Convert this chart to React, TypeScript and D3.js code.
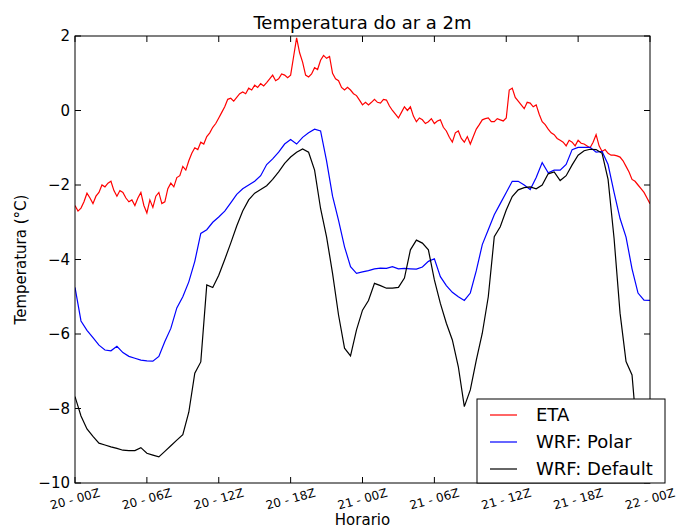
import * as d3 from "d3";

const title = "Temperatura do ar a 2m";
const xLabel = "Horario";
const yLabel = "Temperatura (°C)";

// hour offsets of the x ticks, from 20-00Z
const xTickHours = [0, 6, 12, 18, 24, 30, 36, 42, 48];
const xTickLabels = ["20 - 00Z", "20 - 06Z", "20 - 12Z", "20 - 18Z", "21 - 00Z", "21 - 06Z", "21 - 12Z", "21 - 18Z", "22 - 00Z"];
const yTicks = [-10, -8, -6, -4, -2, 0, 2];

// ETA is read every 15 min, WRF runs every half hour
const etaStep = 0.25;
const wrfStep = 0.5;

const eta = [
  -2.55, -2.7, -2.62, -2.45, -2.22, -2.35, -2.5, -2.3, -2.2, -2.0,
  -2.05, -1.95, -1.9, -2.15, -2.3, -2.15, -2.2, -2.35, -2.45, -2.4,
  -2.55, -2.35, -2.2, -2.55, -2.75, -2.4, -2.6, -2.3, -2.2, -2.5,
  -2.45, -2.1, -1.95, -2.05, -1.8, -1.75, -1.5, -1.6, -1.35, -1.15,
  -1.0, -1.05, -0.85, -0.9, -0.7, -0.6, -0.45, -0.35, -0.2, -0.05,
  0.1, 0.3, 0.33, 0.25, 0.35, 0.45, 0.5, 0.45, 0.6, 0.55,
  0.68, 0.62, 0.72, 0.66, 0.75, 0.85, 0.95, 0.8, 0.85, 0.98,
  0.95, 0.88, 0.95, 1.45, 1.95, 1.55, 1.3, 0.95, 0.9, 0.98,
  1.15, 1.1, 1.35, 1.48, 1.4, 1.45, 1.0, 0.85, 0.8, 0.62,
  0.55, 0.62, 0.55, 0.45, 0.4, 0.28, 0.15, 0.22, 0.15, 0.22,
  0.3, 0.22, 0.2, 0.3, 0.28, 0.12, 0.0, -0.1, -0.2, -0.05,
  0.1, 0.0, 0.1, -0.15, -0.3, -0.2, -0.25, -0.35, -0.3, -0.22,
  -0.35, -0.28, -0.25, -0.45, -0.55, -0.72, -0.85, -0.6, -0.55, -0.75,
  -0.85, -0.7, -0.9, -0.7, -0.5, -0.38, -0.25, -0.22, -0.2, -0.3,
  -0.3, -0.22, -0.25, -0.28, -0.2, 0.55, 0.6, 0.35, 0.25, 0.15,
  0.05, 0.22, 0.2, 0.1, 0.15, -0.1, -0.3, -0.38, -0.5, -0.6,
  -0.65, -0.75, -0.8, -0.85, -0.95, -0.8, -0.85, -0.95, -0.8, -0.88,
  -0.9, -0.95, -1.0, -0.85, -0.65, -0.95, -1.1, -1.05, -1.15, -1.2,
  -1.2, -1.22, -1.25, -1.35, -1.5, -1.65, -1.85, -1.9, -2.0, -2.1,
  -2.2, -2.35, -2.5,
];

const wrfPolar = [
  -4.75, -5.65, -5.9, -6.1, -6.3, -6.43, -6.45, -6.33, -6.5, -6.6,
  -6.65, -6.7, -6.72, -6.73, -6.6, -6.2, -5.85, -5.3, -5.0, -4.6,
  -4.05, -3.3, -3.2, -3.0, -2.86, -2.7, -2.48, -2.25, -2.1, -2.0,
  -1.9, -1.75, -1.45, -1.3, -1.12, -0.9, -0.78, -0.9, -0.72, -0.6,
  -0.5, -0.55, -1.35, -2.3, -2.95, -3.66, -4.19, -4.37, -4.33, -4.3,
  -4.25, -4.23, -4.24, -4.19, -4.25, -4.24, -4.25, -4.26, -4.2, -4.05,
  -3.98, -4.46, -4.7, -4.88, -5.0, -5.1, -4.9, -4.3, -3.6, -3.2,
  -2.8, -2.5, -2.2, -1.9, -1.9, -2.0, -2.12, -1.8, -1.4, -1.67,
  -1.6, -1.6, -1.45, -1.05, -0.99, -0.99, -0.99, -1.12, -1.1, -1.45,
  -2.2, -2.9, -3.4, -4.25, -4.9, -5.09, -5.1,
];

const wrfDefault = [
  -7.68, -8.2, -8.55, -8.75, -8.93, -8.98, -9.03, -9.07, -9.12, -9.13,
  -9.13, -9.05, -9.2, -9.25, -9.3, -9.15, -9.0, -8.85, -8.7, -8.1,
  -7.05, -6.75, -4.68, -4.75, -4.42, -4.0, -3.56, -3.1, -2.7, -2.4,
  -2.22, -2.12, -2.02, -1.85, -1.65, -1.42, -1.25, -1.12, -1.03, -1.12,
  -1.6, -2.63, -3.39, -4.37, -5.49, -6.38, -6.59, -5.89, -5.36, -5.1,
  -4.64, -4.7, -4.77, -4.77, -4.75, -4.5, -3.74, -3.48, -3.56, -3.74,
  -4.55, -5.18, -5.71, -6.16, -6.88, -7.95, -7.5, -6.7, -5.98, -5.0,
  -3.39, -3.12, -2.67, -2.31, -2.13, -2.07, -2.05, -2.1, -2.0, -1.7,
  -1.65, -1.88, -1.75, -1.46, -1.2, -1.08, -1.04, -1.05, -1.15, -1.85,
  -3.43, -5.44, -6.74, -7.1, -9.0, -9.8, -10.2,
];

const seriesNames = ["ETA", "WRF: Polar", "WRF: Default"];
const seriesColors = ["#ff0000", "#0000ff", "#000000"];
const seriesValues = [eta, wrfPolar, wrfDefault];
const seriesSteps = [etaStep, wrfStep, wrfStep];

const W = 684;
const H = 528;
const left = 75;
const right = 650;
const top = 36;
const bottom = 483;
const tickLen = 6;
const font = "DejaVu Sans, sans-serif";

export default function App() {
  const x = d3.scaleLinear().domain([0, 48]).range([left, right]);
  const y = d3.scaleLinear().domain([-10, 2]).range([bottom, top]);
  const lineFor = (step: number) =>
    d3
      .line<number>()
      .x((d, i) => x(i * step))
      .y((d) => y(d));

  const fmt = (v: number) => (v < 0 ? "\u2212" + Math.abs(v) : String(v));

  // legend box
  const lgX = 477, lgY = 399, lgW = 188, lgH = 84;

  return (
    <svg width={W} height={H} style={{ position: "absolute", left: 0, top: 0, background: "#fff" }} fontFamily={font}>
      <defs>
        <clipPath id="plot">
          <rect x={left} y={top} width={right - left} height={bottom - top} />
        </clipPath>
      </defs>
      <rect x={0} y={0} width={W} height={H} fill="#fff" />
      <g clipPath="url(#plot)">
        {seriesValues.map((vals, k) => (
          <path key={k} d={lineFor(seriesSteps[k])(vals) || ""} fill="none" stroke={seriesColors[k]} strokeWidth={1.2} />
        ))}
      </g>
      <rect x={left} y={top} width={right - left} height={bottom - top} fill="none" stroke="#000" strokeWidth={1} />
      {xTickHours.map((h, i) => (
        <g key={"x" + i}>
          <line x1={x(h)} x2={x(h)} y1={bottom} y2={bottom - tickLen} stroke="#000" />
          <line x1={x(h)} x2={x(h)} y1={top} y2={top + tickLen} stroke="#000" />
          <text
            transform={`translate(${x(h)},${bottom + 16}) rotate(-15)`}
            textAnchor="middle"
            fontSize={12}
            dy="0.35em"
          >
            {xTickLabels[i]}
          </text>
        </g>
      ))}
      {yTicks.map((v) => (
        <g key={"y" + v}>
          <line x1={left} x2={left + tickLen} y1={y(v)} y2={y(v)} stroke="#000" />
          <line x1={right} x2={right - tickLen} y1={y(v)} y2={y(v)} stroke="#000" />
          <text x={left - 5} y={y(v)} dy="0.36em" textAnchor="end" fontSize={15}>
            {fmt(v)}
          </text>
        </g>
      ))}
      <text x={(left + right) / 2} y={top - 7} textAnchor="middle" fontSize={18}>
        {title}
      </text>
      <text x={(left + right) / 2} y={H - 3} textAnchor="middle" fontSize={15}>
        {xLabel}
      </text>
      <text transform={`translate(26,${(top + bottom) / 2}) rotate(-90)`} textAnchor="middle" fontSize={15}>
        {yLabel}
      </text>
      <rect x={lgX} y={lgY} width={lgW} height={lgH} fill="#fff" stroke="#000" strokeWidth={1} />
      {seriesNames.map((name, k) => (
        <g key={name}>
          <line x1={lgX + 13} x2={lgX + 40} y1={lgY + 16 + k * 27} y2={lgY + 16 + k * 27} stroke={seriesColors[k]} strokeWidth={1.2} />
          <text x={lgX + 59} y={lgY + 16 + k * 27} dy="0.36em" fontSize={18}>
            {name}
          </text>
        </g>
      ))}
    </svg>
  );
}
